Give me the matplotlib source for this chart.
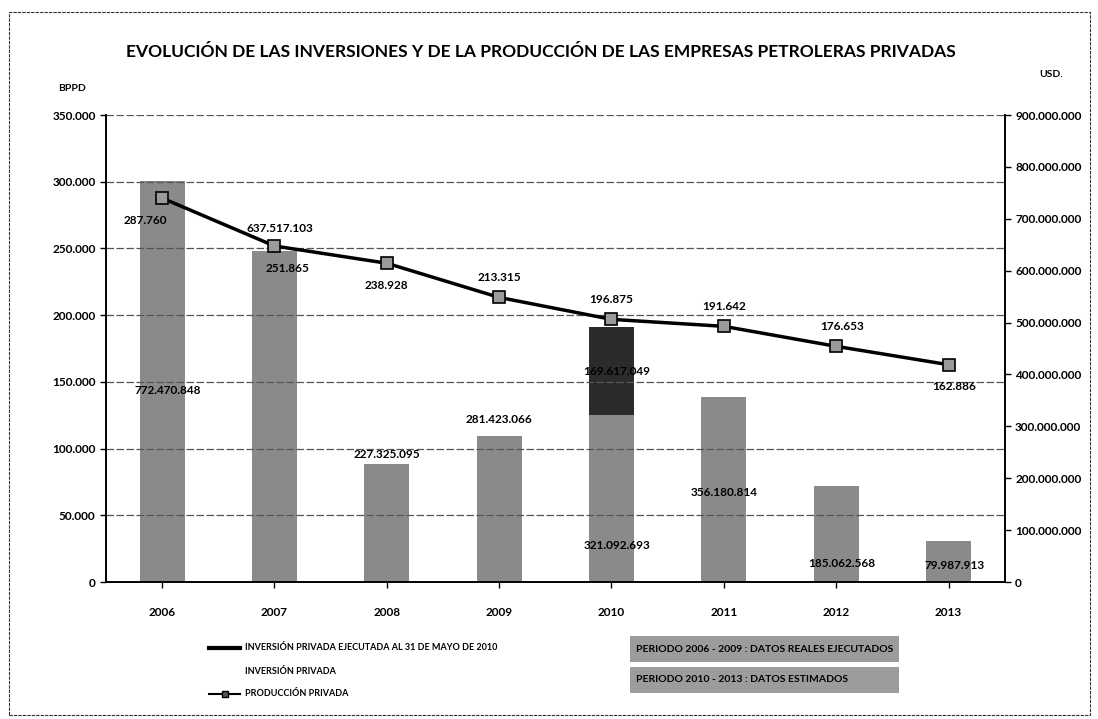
import numpy as np
import matplotlib
matplotlib.use('Agg')
import matplotlib.pyplot as plt
from matplotlib.patches import Rectangle
from matplotlib.ticker import FuncFormatter

years = ['2006', '2007', '2008', '2009', '2010', '2011', '2012', '2013']
inversion = [772470848, 637517103, 227325095, 281423066, 321092693, 356180814, 185062568, 79987913]
inversion_ejecutada = [0, 0, 0, 0, 169617049, 0, 0, 0]
produccion = [287760, 251865, 238928, 213315, 196875, 191642, 176653, 162886]

inv_labels = ['772.470.848', '637.517.103', '227.325.095', '281.423.066',
              '321.092.693', '356.180.814', '185.062.568', '79.987.913']
prod_labels = ['287.760', '251.865', '238.928', '213.315', '196.875', '191.642', '176.653', '162.886']

plt.rcParams['font.family'] = ['Lato', 'DejaVu Sans']
plt.rcParams['font.weight'] = 'bold'


def dots(v, pos=None):
    return '{:,.0f}'.format(v).replace(',', '.')


fig = plt.figure(figsize=(10.98, 7.19), dpi=100)
ax = fig.add_axes([0.0965, 0.1905, 0.8185, 0.6495])
ax2 = ax.twinx()

x = np.arange(len(years))

# bars on the right (USD) axis
ax2.bar(x, inversion, width=0.4, color='#8a8a8a', zorder=2)
ax2.bar(x, inversion_ejecutada, width=0.4, bottom=inversion, color='#2b2b2b', zorder=2)
ax2.set_ylim(0, 900000000)
ax2.set_yticks(np.arange(0, 900000001, 100000000))
ax2.yaxis.set_major_formatter(FuncFormatter(dots))

# line on the left (BPPD) axis, drawn above the bars
ax.set_zorder(ax2.get_zorder() + 1)
ax.patch.set_visible(False)
ax.plot(x, produccion, color='black', lw=2.5, marker='s', ms=8,
        mfc='#9a9a9a', mec='black', mew=1.2, zorder=5)
ax.set_ylim(0, 350000)
ax.set_yticks(np.arange(0, 350001, 50000))
ax.yaxis.set_major_formatter(FuncFormatter(dots))
ax.set_xlim(-0.5, 7.5)
ax.set_xticks(x)
ax.set_xticklabels(years)
ax.grid(axis='y', color='#555555', lw=0.9, ls=(0, (6, 2)))
ax.set_axisbelow(True)

for a in (ax, ax2):
    a.tick_params(labelsize=8.5, length=4, width=1)
    a.spines['top'].set_visible(False)
    for s in a.spines.values():
        s.set_linewidth(1.2)
ax.tick_params(axis='x', pad=14)

# labels for the production line
prod_off = [-16, -16, -16, 14, 14, 14, 14, -16]
prod_dx = [-0.15, 0.12, 0, 0, 0, 0, 0.05, 0.05]
for i, v in enumerate(produccion):
    ax.annotate(prod_labels[i], (x[i] + prod_dx[i], v), xytext=(0, prod_off[i]),
                textcoords='offset points', ha='center', va='center', fontsize=8.5, zorder=6)

# labels for the investment bars
inv_pos = [370e6, 682e6, 245e6, 313e6, 71e6, 172e6, 36e6, 31e6]
inv_dx = [0.05, 0.05, 0, 0, 0.05, 0, 0.05, 0.05]
for i in range(len(years)):
    ax2.text(x[i] + inv_dx[i], inv_pos[i], inv_labels[i], ha='center', va='center', fontsize=8.5, zorder=6)
ax2.text(x[4] + 0.05, 405e6, dots(inversion_ejecutada[4]), ha='center', va='center', fontsize=8.5, zorder=6)

fig.text(0.493, 0.928, 'EVOLUCIÓN DE LAS INVERSIONES Y DE LA PRODUCCIÓN DE LAS EMPRESAS PETROLERAS PRIVADAS',
         ha='center', va='center', fontsize=12.5, fontweight='bold')
fig.text(0.066, 0.877, 'BPPD', ha='center', va='center', fontsize=7.5)
fig.text(0.957, 0.896, 'USD.', ha='center', va='center', fontsize=7.5)

# legend
legend_items = [('line', 'INVERSIÓN PRIVADA EJECUTADA AL 31 DE MAYO DE 2010'),
                ('none', 'INVERSIÓN PRIVADA'),
                ('marker', 'PRODUCCIÓN PRIVADA')]
for k, (kind, label) in enumerate(legend_items):
    yy = 1 - (648 + 23 * k) / 719
    if kind == 'line':
        fig.add_artist(plt.Line2D([0.19, 0.219], [yy, yy], color='black', lw=3))
    elif kind == 'marker':
        fig.add_artist(plt.Line2D([0.19, 0.219], [yy, yy], color='black', lw=1.5))
        fig.add_artist(plt.Line2D([0.2045], [yy], color='black', marker='s', ms=5,
                                  mfc='#555555', mec='black'))
    fig.text(0.223, yy, label, ha='left', va='center', fontsize=6.5)

# period boxes
for k, label in enumerate(['PERIODO 2006 - 2009 : DATOS REALES EJECUTADOS',
                           'PERIODO 2010 - 2013 : DATOS ESTIMADOS']):
    y0 = 1 - (662 + 31 * k) / 719
    fig.add_artist(Rectangle((0.574, y0), 0.245, 26 / 719, transform=fig.transFigure,
                             facecolor='#9c9c9c', edgecolor='none'))
    fig.text(0.579, y0 + 13 / 719, label, ha='left', va='center', fontsize=7.5)

fig.add_artist(Rectangle((0.008, 0.006), 0.985, 0.978, transform=fig.transFigure,
                         fill=False, edgecolor='#333333', lw=0.8, ls=(0, (3, 1))))

fig.savefig('out.png', dpi=100)
